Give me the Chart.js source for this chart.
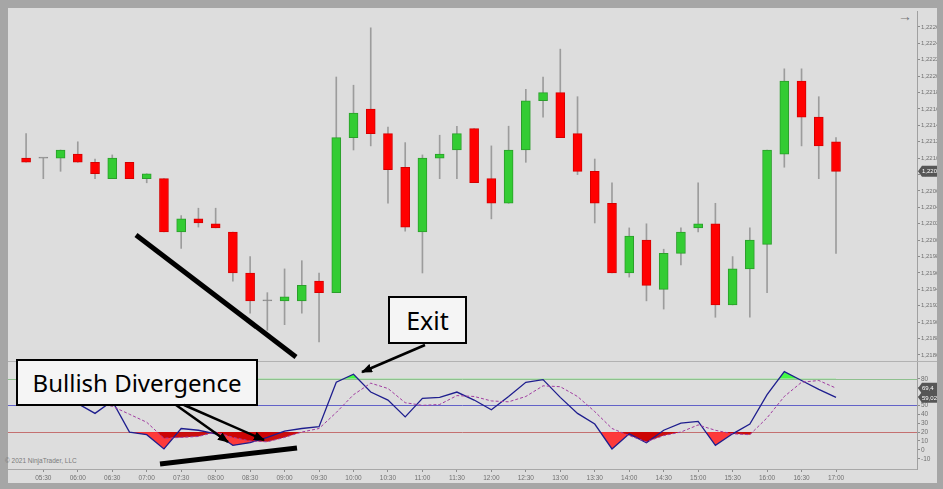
<!DOCTYPE html>
<html>
<head>
<meta charset="utf-8">
<script src="https://cdn.jsdelivr.net/npm/chart.js@4.4.1/dist/chart.umd.min.js"></script>
<style>
  html, body { margin: 0; padding: 0; }
  body { width: 943px; height: 489px; background: #a6a6a6; position: relative; overflow: hidden; font-family: "Liberation Sans", Arial, sans-serif; }
  #frame { position: absolute; left: 8px; top: 8px; width: 929px; height: 475px; background: #dddddd; }
  #sep { position: absolute; left: 8px; top: 361px; width: 929px; height: 1px; background: #b2b2b2; }
  #priceCanvas { position: absolute; left: 8px; top: 5px; }
  #oscCanvas { position: absolute; left: 8px; top: 356px; }
  .note { position: absolute; box-sizing: border-box; background: #f5f5f5; border: 2px solid #000; color: #000;
          font-family: "Noto Sans", sans-serif; display: flex; align-items: center; justify-content: center; white-space: nowrap; }
  #copy { position: absolute; left: 5px; top: 457px; font-size: 6.5px; color: #7a7a7a; }
  #navArrow { position: absolute; left: 898px; top: 8px; font-size: 14px; color: #777; }
  svg { position: absolute; left: 0; top: 0; }
</style>
</head>
<body>
<div id="frame"></div>
<div id="sep"></div>
<div id="copy">© 2021 NinjaTrader, LLC</div>
<div id="navArrow">→</div>
<canvas id="priceCanvas" width="929" height="361"></canvas>
<canvas id="oscCanvas" width="929" height="127"></canvas>
<div class="note" style="left:388px; top:296px; width:79px; height:48px; font-size:25px;">Exit</div>
<div class="note" style="left:16px; top:359px; width:242px; height:47px; font-size:24px;">Bullish Divergence</div>
<svg width="943" height="489">
  <defs>
    <marker id="ah" markerWidth="11" markerHeight="9" refX="10" refY="4.5" orient="auto" markerUnits="userSpaceOnUse">
      <path d="M0,0 L11,4.5 L0,9 z" fill="#000"/>
    </marker>
  </defs>
  <line x1="136" y1="235" x2="296" y2="357" stroke="#000" stroke-width="5"/>
  <line x1="160" y1="464" x2="297" y2="448" stroke="#000" stroke-width="5"/>
  <line x1="425" y1="345" x2="362" y2="372" stroke="#000" stroke-width="2.5" marker-end="url(#ah)"/>
  <line x1="176" y1="405" x2="228" y2="442" stroke="#000" stroke-width="2.5" marker-end="url(#ah)"/>
  <line x1="184" y1="405" x2="264" y2="440" stroke="#000" stroke-width="2.5" marker-end="url(#ah)"/>
</svg>
<script>
// 15 minute bars, EURUSD-like
const times = ["05:15","05:30","05:45","06:00","06:15","06:30","06:45","07:00","07:15","07:30",
  "07:45","08:00","08:15","08:30","08:45","09:00","09:15","09:30","09:45","10:00",
  "10:15","10:30","10:45","11:00","11:15","11:30","11:45","12:00","12:15","12:30",
  "12:45","13:00","13:15","13:30","13:45","14:00","14:15","14:30","14:45","15:00",
  "15:15","15:30","15:45","16:00","16:15","16:30","16:45","17:00"];

const open = [1.22100,1.22100,1.22100,1.22105,1.22095,1.22075,1.22095,1.22075,1.22075,1.22010,
  1.22026,1.22020,1.22010,1.21960,1.21926,1.21926,1.21926,1.21950,1.21936,1.22125,
  1.22160,1.22130,1.22089,1.22010,1.22100,1.22110,1.22136,1.22075,1.22045,1.22110,
  1.22170,1.22180,1.22130,1.22084,1.22045,1.21960,1.22000,1.21940,1.21984,1.22015,
  1.22020,1.21921,1.21965,1.21995,1.22105,1.22194,1.22150,1.22120];
const high = [1.22130,1.22100,1.22110,1.22120,1.22099,1.22104,1.22095,1.22081,1.22075,1.22030,
  1.22039,1.22039,1.22010,1.21980,1.21936,1.21965,1.21975,1.21960,1.22199,1.22189,
  1.22259,1.22138,1.22119,1.22104,1.22128,1.22139,1.22136,1.22115,1.22139,1.22184,
  1.22199,1.22233,1.22175,1.22099,1.22070,1.22015,1.22020,1.21989,1.22015,1.22070,
  1.22045,1.21980,1.22015,1.22110,1.22209,1.22209,1.22175,1.22125];
const low = [1.22095,1.22075,1.22084,1.22095,1.22075,1.22075,1.22075,1.22070,1.22010,1.21990,
  1.22016,1.22015,1.21950,1.21911,1.21890,1.21897,1.21911,1.21876,1.21936,1.22110,
  1.22115,1.22045,1.22011,1.21960,1.22075,1.22075,1.22070,1.22026,1.22045,1.22095,
  1.22150,1.22125,1.22080,1.22021,1.21960,1.21955,1.21926,1.21916,1.21970,1.22010,
  1.21906,1.21921,1.21906,1.21936,1.22089,1.22115,1.22075,1.21984];
const close = [1.22095,1.22100,1.22110,1.22095,1.22081,1.22100,1.22075,1.22081,1.22010,1.22026,
  1.22021,1.22015,1.21960,1.21926,1.21926,1.21931,1.21945,1.21936,1.22125,1.22155,
  1.22130,1.22086,1.22016,1.22100,1.22105,1.22130,1.22070,1.22045,1.22110,1.22170,
  1.22180,1.22125,1.22084,1.22045,1.21960,1.22005,1.21945,1.21984,1.22010,1.22020,
  1.21921,1.21965,1.22000,1.22110,1.22194,1.22150,1.22115,1.22084];

// stochastics: fast line (blue) and slow line (dashed)
const kLine = [60,55,62,52,41,55,20,17,1,24,22,18,5,8,14,21,24,26,76,85,
  65,56,37,58,59,65,56,45,60,76,79,59,41,29,1,18,8,22,30,32,
  5,18,29,62,88,78,68,59.02];
const dLine = [58,60,59,56,52,49,40,31,13,14,15,20,14,10,9,14,20,24,42,62,
  75,69,53,50,51,61,60,55,54,60,72,71,60,43,24,16,9,16,20,28,
  22,18,17,36,60,76,78,69.4];

const xTickLabels = ["05:30","06:00","06:30","07:00","07:30","08:00","08:30","09:00","09:30","10:00",
  "10:30","11:00","11:30","12:00","12:30","13:00","13:30","14:00","14:30","15:00",
  "15:30","16:00","16:30","17:00"];
const oscTicks = [-10,0,10,20,30,40,50,60,70,80];
const levels = [80, 50, 20];
const levelColors = ['#8fc08f', '#6262c8', '#c47070'];

const tickFont = { family: 'Liberation Sans', size: 6.5 };
const priceFont = { family: 'Liberation Sans', size: 6 };
const xMin = -1.05, xMax = 51.7;

function fmt(v, d) { return v.toFixed(d).replace('.', ','); }

function drawTag(ctx, x, y, text) {
  ctx.save();
  ctx.fillStyle = '#565656';
  ctx.beginPath();
  ctx.moveTo(x, y);
  ctx.lineTo(x + 4, y - 5.5);
  ctx.lineTo(x + 30, y - 5.5);
  ctx.lineTo(x + 30, y + 5.5);
  ctx.lineTo(x + 4, y + 5.5);
  ctx.closePath();
  ctx.fill();
  ctx.fillStyle = '#ffffff';
  ctx.font = '6px "Liberation Sans"';
  ctx.textBaseline = 'middle';
  ctx.fillText(text, x + 4, y + 0.5);
  ctx.restore();
}

function bodyColor(i) {
  if (close[i] > open[i]) return '#33cc33';
  if (close[i] < open[i]) return '#ff0000';
  return '#8a8a8a';
}
function bodyBorder(i) {
  if (close[i] > open[i]) return '#2b9e2b';
  if (close[i] < open[i]) return '#d40000';
  return '#8a8a8a';
}

// price panel
const priceTag = {
  id: 'priceTag',
  afterDraw(chart) {
    const y = chart.scales.y.getPixelForValue(close[close.length - 1]);
    drawTag(chart.ctx, chart.chartArea.right + 1, y, fmt(close[close.length - 1], 5));
  }
};

new Chart(document.getElementById('priceCanvas'), {
  type: 'bar',
  data: {
    datasets: [
      {
        label: 'wick',
        data: times.map((t, i) => ({ x: i, y: [low[i], high[i]] })),
        backgroundColor: '#9c9c9c',
        barThickness: 1,
        grouped: false,
        order: 2
      },
      {
        label: 'body',
        data: times.map((t, i) => ({ x: i, y: [open[i], close[i]] })),
        backgroundColor: times.map((t, i) => bodyColor(i)),
        borderColor: times.map((t, i) => bodyBorder(i)),
        borderWidth: 1,
        borderSkipped: false,
        barThickness: 9,
        minBarLength: 1,
        grouped: false,
        order: 1
      }
    ]
  },
  options: {
    responsive: false,
    animation: false,
    layout: { padding: { top: 6, bottom: 6, left: 0, right: 0 } },
    plugins: { legend: { display: false }, tooltip: { enabled: false } },
    scales: {
      x: { type: 'linear', min: xMin, max: xMax, offset: false, display: false },
      y: {
        position: 'right',
        min: 1.218539,
        max: 1.222795,
        afterFit(scale) { scale.width = 20; },
        grid: { drawOnChartArea: false, tickLength: 3, color: '#8c8c8c' },
        border: { color: '#a0a0a0' },
        ticks: {
          stepSize: 0.0002,
          includeBounds: false,
          padding: 1,
          font: priceFont,
          color: '#707070',
          callback: v => fmt(v, 5)
        }
      }
    }
  },
  plugins: [priceTag]
});

// stochastics panel
const oscDecor = {
  id: 'oscDecor',
  beforeDatasetsDraw(chart) {
    const { ctx, chartArea, scales } = chart;
    ctx.save();
    levels.forEach((lv, i) => {
      const y = Math.round(scales.y.getPixelForValue(lv)) + 0.5;
      ctx.strokeStyle = levelColors[i];
      ctx.lineWidth = 1;
      ctx.beginPath();
      ctx.moveTo(chartArea.left, y);
      ctx.lineTo(chartArea.right, y);
      ctx.stroke();
    });
    ctx.restore();
  },
  afterDraw(chart) {
    const { ctx, chartArea, scales } = chart;
    const n = kLine.length - 1;
    drawTag(ctx, chartArea.right + 1, scales.y.getPixelForValue(dLine[n]), fmt(dLine[n], 1));
    drawTag(ctx, chartArea.right + 1, scales.y.getPixelForValue(kLine[n]), fmt(kLine[n], 2));
  }
};

const pts = arr => arr.map((v, i) => ({ x: i, y: v }));

new Chart(document.getElementById('oscCanvas'), {
  type: 'line',
  data: {
    datasets: [
      {
        label: 'K below 20',
        data: pts(kLine),
        borderColor: 'transparent',
        borderWidth: 0,
        pointRadius: 0,
        fill: { target: { value: 20 }, above: 'rgba(0,0,0,0)', below: 'rgba(255,45,45,0.93)' },
        order: 6
      },
      {
        label: 'D below 20',
        data: pts(dLine),
        borderColor: 'transparent',
        borderWidth: 0,
        pointRadius: 0,
        fill: { target: { value: 20 }, above: 'rgba(0,0,0,0)', below: 'rgba(200,0,0,0.93)' },
        order: 5
      },
      {
        label: 'K above 80',
        data: pts(kLine),
        borderColor: 'transparent',
        borderWidth: 0,
        pointRadius: 0,
        fill: { target: { value: 80 }, above: 'rgba(60,250,60,0.95)', below: 'rgba(0,0,0,0)' },
        order: 4
      },
      {
        label: 'K',
        data: pts(kLine),
        borderColor: '#1e1e8e',
        borderWidth: 1.3,
        pointRadius: 0,
        fill: false,
        tension: 0,
        order: 2
      },
      {
        label: 'D',
        data: pts(dLine),
        borderColor: '#a03ca0',
        borderWidth: 1,
        borderDash: [3, 2],
        pointRadius: 0,
        fill: false,
        tension: 0,
        order: 1
      }
    ]
  },
  options: {
    responsive: false,
    animation: false,
    layout: { padding: { top: 6, bottom: 0, left: 0, right: 0 } },
    plugins: { legend: { display: false }, tooltip: { enabled: false } },
    scales: {
      x: {
        type: 'linear',
        min: xMin,
        max: xMax,
        offset: false,
        afterFit(scale) { scale.height = 14; },
        afterBuildTicks(scale) { scale.ticks = xTickLabels.map(t => ({ value: times.indexOf(t) })); },
        grid: { drawOnChartArea: false, tickLength: 3, color: '#8c8c8c' },
        border: { color: '#a8a8a8' },
        ticks: {
          autoSkip: false,
          maxRotation: 0,
          padding: 2,
          font: tickFont,
          color: '#707070',
          callback: v => times[v]
        }
      },
      y: {
        position: 'right',
        min: -21.57,
        max: 98.79,
        afterFit(scale) { scale.width = 20; },
        afterBuildTicks(scale) { scale.ticks = oscTicks.map(v => ({ value: v })); },
        grid: { drawOnChartArea: false, tickLength: 3, color: '#8c8c8c' },
        border: { color: '#a0a0a0' },
        ticks: { padding: 1, font: tickFont, color: '#707070' }
      }
    }
  },
  plugins: [oscDecor]
});
</script>
</body>
</html>
